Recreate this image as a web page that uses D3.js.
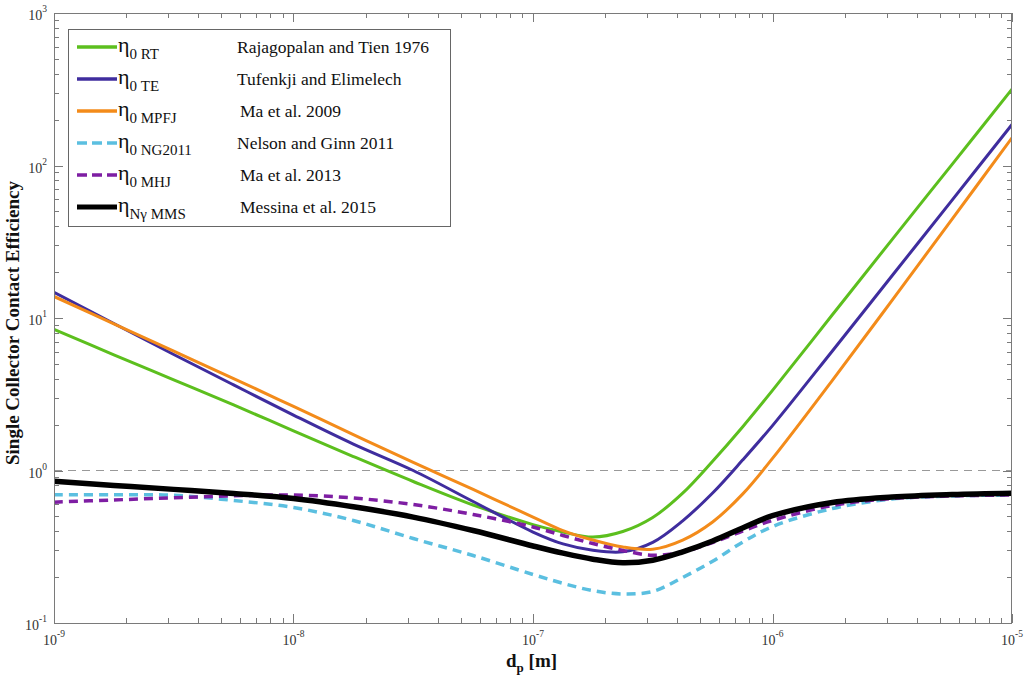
<!DOCTYPE html>
<html><head><meta charset="utf-8">
<script src="https://cdn.jsdelivr.net/npm/d3@7"></script>
<style>body{margin:0;background:#fff}svg{display:block}text{font-family:"Liberation Serif","Times New Roman",serif}</style>
</head><body><svg id="c" width="1024" height="678"></svg>
<script>
// particle diameters d_p [m]
const dp = [1e-9,1.778e-9,3.162e-9,5.623e-9,1e-8,1.778e-8,3.162e-8,5.623e-8,1e-7,1.334e-7,1.778e-7,2.371e-7,3.162e-7,4.217e-7,5.623e-7,7.499e-7,1e-6,1.778e-6,3.162e-6,5.623e-6,1e-5];
const etaRT   = [8.41,5.74,3.93,2.69,1.82,1.235,0.847,0.594,0.442,0.395,0.366,0.398,0.492,0.71,1.15,1.93,3.35,10.5,32.8,101.8,316.5];
const etaTE   = [14.76,9.20,5.76,3.64,2.31,1.49,1.00,0.626,0.395,0.330,0.300,0.293,0.338,0.468,0.712,1.17,1.97,6.08,19.0,59.3,185.7];
const etaMPFJ = [13.84,9.15,6.06,4.01,2.63,1.72,1.13,0.751,0.495,0.404,0.350,0.315,0.305,0.350,0.46,0.70,1.20,3.90,13.1,44.5,151.9];
const etaNG   = [0.693,0.694,0.688,0.636,0.572,0.470,0.358,0.277,0.208,0.182,0.163,0.155,0.161,0.199,0.254,0.339,0.429,0.563,0.650,0.681,0.691];
const etaMHJ  = [0.620,0.641,0.662,0.682,0.691,0.660,0.598,0.515,0.426,0.375,0.332,0.299,0.278,0.292,0.337,0.401,0.470,0.590,0.655,0.681,0.691];
const etaMMS  = [0.851,0.798,0.752,0.706,0.655,0.578,0.495,0.404,0.320,0.287,0.262,0.248,0.258,0.293,0.345,0.420,0.505,0.617,0.670,0.696,0.710];
const seriesSub  = ["0 RT","0 TE","0 MPFJ","0 NG2011","0 MHJ","N\u03b3 MMS"];
const seriesName = ["Rajagopalan and Tien 1976","Tufenkji and Elimelech","Ma et al. 2009","Nelson and Ginn 2011","Ma et al. 2013","Messina et al. 2015"];
const xTickExp = [-9,-8,-7,-6,-5];
const yTickExp = [-1,0,1,2,3];

const L=54,R=1012,T=13,B=623;
const svg=d3.select("#c");
const x=d3.scaleLog().domain([1e-9,1e-5]).range([L,R]);
const y=d3.scaleLog().domain([0.1,1000]).range([B,T]);

const styles=[
 {c:"#5cbf1e",w:3,d:null},
 {c:"#3f2d9e",w:3,d:null},
 {c:"#f38b1a",w:3,d:null},
 {c:"#5bbfe0",w:3.5,d:"9,6"},
 {c:"#7e1ea3",w:3.5,d:"9,6"},
 {c:"#000000",w:5.5,d:null}
];
const allSeries=[etaRT,etaTE,etaMPFJ,etaNG,etaMHJ,etaMMS];

svg.append("defs").append("clipPath").attr("id","clip").append("rect")
 .attr("x",L).attr("y",T).attr("width",R-L).attr("height",B-T);

// reference line eta = 1
svg.append("line").attr("x1",L).attr("x2",R).attr("y1",y(1)).attr("y2",y(1))
 .attr("stroke","#999").attr("stroke-width",1).attr("stroke-dasharray","8,6");

// ticks
const axc="#7a7a7a";
const g=svg.append("g");
x.ticks().forEach(v=>{
  const lg=Math.log10(v), major=Math.abs(lg-Math.round(lg))<1e-6;
  const len=major?9:5, px=Math.round(x(v))+0.5;
  g.append("line").attr("x1",px).attr("x2",px).attr("y1",B).attr("y2",B-len).attr("stroke",axc);
  g.append("line").attr("x1",px).attr("x2",px).attr("y1",T).attr("y2",T+len).attr("stroke",axc);
});
y.ticks().forEach(v=>{
  const lg=Math.log10(v), major=Math.abs(lg-Math.round(lg))<1e-6;
  const len=major?9:5, py=Math.round(y(v))+0.5;
  g.append("line").attr("y1",py).attr("y2",py).attr("x1",L).attr("x2",L+len).attr("stroke",axc);
  g.append("line").attr("y1",py).attr("y2",py).attr("x1",R).attr("x2",R-len).attr("stroke",axc);
});

// curves
const line=d3.line().x((d,i)=>x(dp[i])).y(d=>y(d)).curve(d3.curveCatmullRom.alpha(0.5));
const cg=svg.append("g").attr("clip-path","url(#clip)");
allSeries.forEach((s,i)=>{
  cg.append("path").attr("d",line(s)).attr("fill","none").attr("stroke",styles[i].c)
   .attr("stroke-width",styles[i].w).attr("stroke-dasharray",styles[i].d).attr("stroke-linejoin","round");
});

// frame
svg.append("rect").attr("x",L+0.5).attr("y",T+0.5).attr("width",R-L-1).attr("height",B-T)
 .attr("fill","none").attr("stroke",axc).attr("stroke-width",1);

// tick labels
xTickExp.forEach(e=>{
  const t=svg.append("text").attr("x",x(Math.pow(10,e))).attr("y",B+22).attr("text-anchor","middle")
   .attr("fill","#333").attr("font-size",14);
  t.append("tspan").text("10");
  t.append("tspan").attr("dy",-8).attr("font-size",9.5).text(e);
});
yTickExp.forEach(e=>{
  const t=svg.append("text").attr("x",47).attr("y",y(Math.pow(10,e))+7).attr("text-anchor","end")
   .attr("fill","#333").attr("font-size",14);
  t.append("tspan").text("10");
  t.append("tspan").attr("dy",-8).attr("font-size",9.5).text(e);
});

// axis titles
svg.append("text").attr("transform","translate(19,323) rotate(-90)").attr("text-anchor","middle")
 .attr("font-weight","bold").attr("font-size",19).attr("fill","#111").text("Single Collector Contact Efficiency");
const xt=svg.append("text").attr("x",506).attr("y",667).attr("font-weight","bold").attr("font-size",19).attr("fill","#111");
xt.append("tspan").text("d");
xt.append("tspan").attr("dy",5).attr("font-size",13).text("p");
xt.append("tspan").attr("dy",-5).text(" [m]");

// legend
const lg=svg.append("g");
lg.append("rect").attr("x",68.5).attr("y",29.5).attr("width",382).attr("height",197)
 .attr("fill","#fff").attr("stroke","#666").attr("stroke-width",1);
const rowY=[47,79,111,143,175,207];
const nameX=[237,237,240,237,240,240];
seriesSub.forEach((sub,i)=>{
  const ry=rowY[i];
  lg.append("line").attr("x1",77).attr("x2",117).attr("y1",ry).attr("y2",ry)
   .attr("stroke",styles[i].c).attr("stroke-width",i===5?5:3.5)
   .attr("stroke-dasharray",styles[i].d?"10,5":null);
  const t=lg.append("text").attr("x",118).attr("y",ry+5).attr("font-size",22).attr("fill","#111");
  t.append("tspan").text("\u03b7");
  t.append("tspan").attr("dy",7).attr("font-size",15).text(sub);
  lg.append("text").attr("x",nameX[i]).attr("y",ry+6).attr("font-size",17.5).attr("fill","#111").text(seriesName[i]);
});
</script></body></html>
